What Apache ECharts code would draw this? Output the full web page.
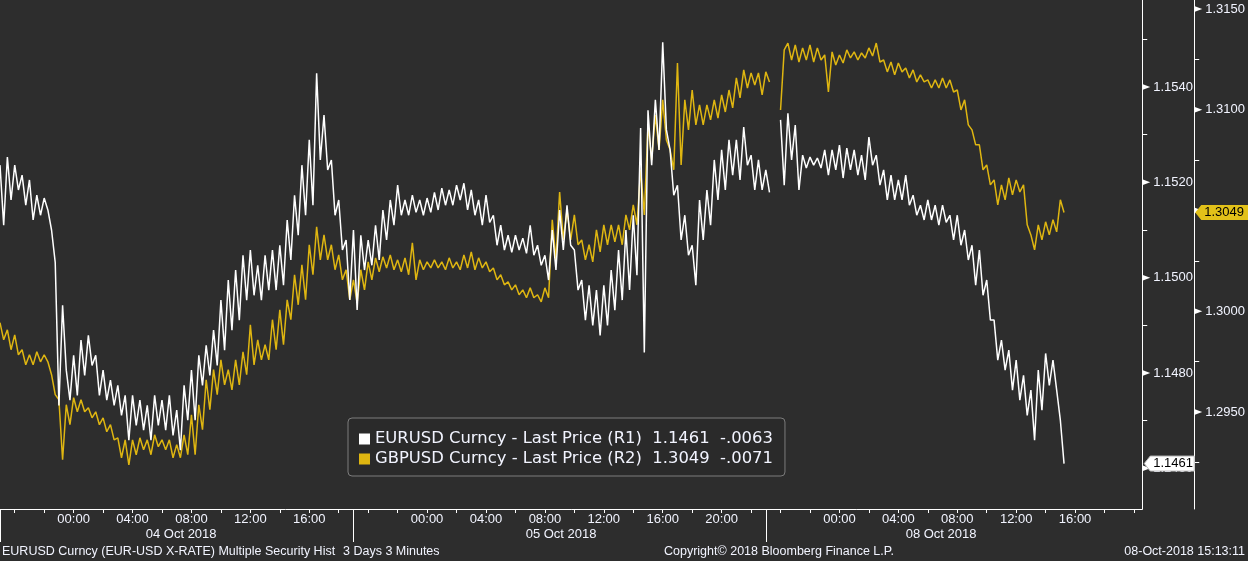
<!DOCTYPE html>
<html>
<head>
<meta charset="utf-8">
<script src="https://cdn.jsdelivr.net/npm/echarts@6/dist/echarts.min.js"></script>
<style>
html,body{margin:0;padding:0;background:#2d2d2d;}
#chart{width:1248px;height:561px;}
</style>
</head>
<body>
<div id="chart"></div>
<script>
// ---------------- DATA ----------------
const SERIES_NAMES = ['EURUSD Curncy - Last Price (R1)', 'GBPUSD Curncy - Last Price (R2)'];
const LAST_VALUES = ['1.1461', '1.3049'];
const NET_CHANGES = ['-.0063', '-.0071'];

// readings every 15 minutes of trading time, starting 19:00 on 03 Oct (weekend removed)
const SAMPLE_STEP_HOURS = 0.25;

const eurusd = [
1.15236,1.15110, 1.15253,1.15163, 1.15236,1.15184, 1.15215,1.15152, 1.15205,1.15121,
1.15173,1.15131, 1.15167,1.15142, 1.15100,1.15032, 1.14732,1.14942, 1.14806,1.14743,
1.14837,1.14753, 1.14869,1.14795, 1.14879,1.14816, 1.14837,1.14753, 1.14806,1.14743,
1.14785,1.14732, 1.14774,1.14711, 1.14753,1.14659, 1.14753,1.14690, 1.14743,1.14680,
1.14732,1.14659, 1.14753,1.14690, 1.14743,1.14680, 1.14753,1.14669, 1.14722,1.14638,
1.14774,1.14701, 1.14806,1.14701, 1.14837,1.14774, 1.14858,1.14795, 1.14890,1.14816,
1.14953,1.14848, 1.14995,1.14890, 1.15016,1.14911, 1.15047,1.14953, 1.15058,1.14963,
1.15026,1.14953, 1.15047,1.14974, 1.15058,1.14974, 1.15068,1.14984, 1.15121,1.15037,
1.15173,1.15089, 1.15236,1.15131, 1.15289,1.15152, 1.15429,1.15247, 1.15341,1.15226,
1.15247,1.15131, 1.15163,1.15058, 1.15079,1.14953, 1.15100,1.14932, 1.15089,1.15016,
1.15079,1.15026, 1.15110,1.15037, 1.15142,1.15079, 1.15163,1.15110, 1.15194,1.15131,
1.15163,1.15131, 1.15173,1.15137, 1.15163,1.15131, 1.15167,1.15137, 1.15179,1.15142,
1.15188,1.15152, 1.15184,1.15152, 1.15194,1.15163, 1.15198,1.15142, 1.15184,1.15131,
1.15163,1.15110, 1.15173,1.15116, 1.15131,1.15068, 1.15110,1.15058, 1.15089,1.15053,
1.15089,1.15058, 1.15083,1.15051, 1.15110,1.15047, 1.15068,1.15026, 1.15047,1.14995,
1.15100,1.15016, 1.15142,1.15058, 1.15152,1.15068, 1.15058,1.14974, 1.14995,1.14911,
1.14984,1.14900, 1.14974,1.14879, 1.14984,1.14900, 1.15016,1.14932, 1.15058,1.14953,
1.15100,1.14974, 1.15131,1.15005, 1.15314,1.14843, 1.15351,1.15236, 1.15373,1.15268,
1.15494,1.15310, 1.15268,1.15173, 1.15194,1.15079, 1.15131,1.15047, 1.15068,1.14984,
1.15163,1.15079, 1.15184,1.15110, 1.15247,1.15163, 1.15268,1.15184, 1.15289,1.15215,
1.15289,1.15205, 1.15316,1.15236, 1.15257,1.15184, 1.15247,1.15184, 1.15226,1.15179,
null,null,       1.15331,1.15194, 1.15345,1.15247, 1.15320,1.15184, 1.15257,1.15230,
1.15253,1.15236, 1.15251,1.15230, 1.15268,1.15215, 1.15268,1.15226, 1.15278,1.15209,
1.15272,1.15226, 1.15268,1.15215, 1.15257,1.15205, 1.15295,1.15236, 1.15257,1.15194,
1.15226,1.15163, 1.15215,1.15163, 1.15205,1.15163, 1.15215,1.15152, 1.15173,1.15131,
1.15152,1.15121, 1.15163,1.15121, 1.15152,1.15110, 1.15152,1.15116, 1.15131,1.15079,
1.15131,1.15068, 1.15100,1.15037, 1.15068,1.14984, 1.15058,1.14963, 1.14995,1.14911,
1.14911,1.14827, 1.14869,1.14806, 1.14848,1.14764, 1.14827,1.14743, 1.14795,1.14711,
1.14764,1.14659, 1.14806,1.14722, 1.14841,1.14774, 1.14827,1.14764, 1.14701,1.14610
];

const gbpusd = [
1.29943,1.29858, 1.29908,1.29809, 1.29883,1.29784, 1.29809,1.29734, 1.29784,1.29734,
1.29799,1.29749, 1.29784,1.29749, 1.29685,1.29586, 1.29561,1.29263, 1.29536,1.29437,
1.29571,1.29501, 1.29561,1.29501, 1.29521,1.29471, 1.29501,1.29437, 1.29471,1.29402,
1.29437,1.29362, 1.29372,1.29273, 1.29362,1.29238, 1.29362,1.29288, 1.29372,1.29313,
1.29362,1.29288, 1.29387,1.29328, 1.29362,1.29313, 1.29362,1.29273, 1.29338,1.29273,
1.29387,1.29288, 1.29486,1.29288, 1.29536,1.29412, 1.29660,1.29511, 1.29710,1.29586,
1.29759,1.29635, 1.29710,1.29610, 1.29759,1.29635, 1.29799,1.29685, 1.29933,1.29734,
1.29858,1.29759, 1.29834,1.29759, 1.29958,1.29809, 1.30007,1.29834, 1.30057,1.29958,
1.30181,1.30032, 1.30230,1.30057, 1.30330,1.30181, 1.30419,1.30255, 1.30379,1.30255,
1.30330,1.30206, 1.30280,1.30156, 1.30206,1.30057, 1.30156,1.30042, 1.30206,1.30106,
1.30245,1.30156, 1.30265,1.30196, 1.30270,1.30215, 1.30280,1.30206, 1.30255,1.30196,
1.30265,1.30181, 1.30339,1.30156, 1.30255,1.30206, 1.30245,1.30215, 1.30255,1.30215,
1.30245,1.30206, 1.30265,1.30215, 1.30245,1.30206, 1.30280,1.30215, 1.30295,1.30206,
1.30265,1.30215, 1.30245,1.30196, 1.30215,1.30156, 1.30181,1.30131, 1.30146,1.30106,
1.30131,1.30082, 1.30106,1.30067, 1.30116,1.30067, 1.30082,1.30047, 1.30116,1.30067,
1.30454,1.30255, 1.30592,1.30354, 1.30503,1.30354, 1.30478,1.30330, 1.30354,1.30255,
1.30330,1.30245, 1.30404,1.30295, 1.30429,1.30330, 1.30429,1.30344, 1.30429,1.30330,
1.30478,1.30404, 1.30528,1.30429, 1.30702,1.30478, 1.30925,1.30751, 1.30974,1.30801,
1.31049,1.30850, 1.30801,1.30702, 1.31232,1.30726, 1.31049,1.30900, 1.31098,1.30925,
1.31024,1.30925, 1.31024,1.30950, 1.31049,1.30959, 1.31074,1.30989, 1.31098,1.31009,
1.31158,1.31059, 1.31198,1.31108, 1.31183,1.31123, 1.31183,1.31074, 1.31188,1.31138,
null,null,       1.30999,1.31297, 1.31331,1.31247, 1.31322,1.31237, 1.31307,1.31247,
1.31322,1.31237, 1.31307,1.31247, 1.31272,1.31088, 1.31287,1.31222, 1.31272,1.31232,
1.31297,1.31257, 1.31287,1.31247, 1.31282,1.31257, 1.31307,1.31267, 1.31331,1.31237,
1.31247,1.31188, 1.31237,1.31173, 1.31232,1.31188, 1.31207,1.31158, 1.31198,1.31138,
1.31173,1.31138, 1.31148,1.31108, 1.31148,1.31108, 1.31158,1.31108, 1.31148,1.31088,
1.31098,1.30999, 1.31049,1.30925, 1.30900,1.30826, 1.30826,1.30702, 1.30726,1.30627,
1.30652,1.30528, 1.30627,1.30553, 1.30662,1.30578, 1.30652,1.30592, 1.30627,1.30429,
1.30379,1.30305, 1.30429,1.30354, 1.30444,1.30379, 1.30454,1.30394, 1.30553,1.30490
];

// x axis (hours of trading time since 19:00 03 Oct)
const X_MIN = 0, X_MAX = 77.56;
const sessionStartHours = [0, 24, 52];
const SESSION_OPEN_CLOCK = 19;
const timeLabelHours = [5, 9, 13, 17, 21, 29, 33, 37, 41, 45, 49, 57, 61, 65, 69, 73];
const timeTickHours = [1,3,5,7,9,11,13,15,17,19,21,23,25,27,29,31,33,35,37,39,41,43,45,47,49,51,53,55,57,59,61,63,65,67,69,71,73,75,77];
const dayLabels = ['04 Oct 2018', '05 Oct 2018', '08 Oct 2018'];
const dayLabelHours = [12.3, 38.1, 63.9];

// y axes
const EUR_MIN = 1.145147, EUR_MAX = 1.155825;
const GBP_MIN = 1.290186, GBP_MAX = 1.315447;
const eurTicks = [1.146, 1.147, 1.148, 1.149, 1.150, 1.151, 1.152, 1.153, 1.154, 1.155];
const eurLabels = [1.146, 1.148, 1.150, 1.152, 1.154];
const gbpTicks = [1.2925, 1.2950, 1.2975, 1.3000, 1.3025, 1.3050, 1.3075, 1.3100, 1.3125, 1.3150];
const gbpLabels = [1.2950, 1.3000, 1.3050, 1.3100, 1.3150];

const footerLeft = 'EURUSD Curncy (EUR-USD X-RATE) Multiple Security Hist';
const footerPeriod = '3 Days 3 Minutes';
const footerCopyright = 'Copyright\u00A9 2018 Bloomberg Finance L.P.';
const footerStamp = '08-Oct-2018 15:13:11';

// ---------------- STYLE ----------------
const FONT = '"Liberation Sans", Arial, sans-serif';
const LEGEND_FONT = '"DejaVu Sans", "Liberation Sans", sans-serif';
const BG = '#2d2d2d';
const WHITE = '#ffffff';
const TEXT = '#f2f4ff';
const YELLOW = '#dfb611';
const TAG_YELLOW = '#e2c119';

const chart = echarts.init(document.getElementById('chart'), null, {renderer: 'canvas'});

function toPairs(arr) {
  return arr.map((v, i) => [i * SAMPLE_STEP_HOURS, v === null ? '-' : v]);
}
function pad2(n) { return (n < 10 ? '0' : '') + n; }
function clockLabel(h) {
  let s = 0;
  sessionStartHours.forEach(st => { if (h >= st) s = st; });
  const c = Math.round((SESSION_OPEN_CLOCK + h - s)) % 24;
  return pad2(c) + ':00';
}

const option = {
  backgroundColor: BG,
  animation: false,
  grid: {left: 0, right: 104, top: 0, bottom: 52, containLabel: false},
  legend: {
    data: SERIES_NAMES,
    orient: 'vertical',
    left: 348, top: 418,
    padding: [11, 12, 7, 11],
    itemGap: 0,
    itemWidth: 11, itemHeight: 11,
    icon: 'rect',
    selectedMode: false,
    backgroundColor: '#2a2a2a',
    borderColor: '#7c7c7c', borderWidth: 1, borderRadius: 4,
    itemStyle: {borderWidth: 0},
    textStyle: {color: TEXT, fontSize: 16.4, fontFamily: LEGEND_FONT, lineHeight: 20},
    formatter: function (name) {
      const i = SERIES_NAMES.indexOf(name);
      return name + '  ' + LAST_VALUES[i] + '  ' + NET_CHANGES[i];
    }
  },
  xAxis: [{
    type: 'value', min: X_MIN, max: X_MAX, position: 'bottom',
    axisLine: {show: true, onZero: false, lineStyle: {color: WHITE, width: 1}},
    axisTick: {show: true, customValues: timeTickHours, length: 4, lineStyle: {color: WHITE}},
    axisLabel: {customValues: timeLabelHours, formatter: clockLabel, color: TEXT, fontSize: 13, fontFamily: FONT, margin: 4},
    splitLine: {show: false}
  }, {
    type: 'value', min: X_MIN, max: X_MAX, position: 'bottom',
    axisLine: {show: false, onZero: false},
    axisTick: {show: true, customValues: sessionStartHours, length: 33, lineStyle: {color: WHITE}},
    axisLabel: {
      customValues: dayLabelHours,
      formatter: function (v) {
        let best = 0;
        dayLabelHours.forEach((h, i) => { if (Math.abs(h - v) < Math.abs(dayLabelHours[best] - v)) best = i; });
        return dayLabels[best];
      },
      color: TEXT, fontSize: 13, fontFamily: FONT, margin: 19
    },
    splitLine: {show: false}
  }],
  yAxis: [{
    type: 'value', position: 'right', min: EUR_MIN, max: EUR_MAX,
    axisLine: {show: true, onZero: false, lineStyle: {color: WHITE}},
    axisTick: {show: true, customValues: eurTicks, length: 5, lineStyle: {color: WHITE}},
    axisLabel: {customValues: eurLabels, formatter: v => v.toFixed(4), color: TEXT, fontSize: 13, fontFamily: FONT, margin: 11},
    splitLine: {show: false}
  }, {
    type: 'value', position: 'right', offset: 52, min: GBP_MIN, max: GBP_MAX,
    axisLine: {show: true, onZero: false, lineStyle: {color: WHITE}},
    axisTick: {show: true, customValues: gbpTicks, length: 5, lineStyle: {color: WHITE}},
    axisLabel: {customValues: gbpLabels, formatter: v => v.toFixed(4), color: TEXT, fontSize: 13, fontFamily: FONT, margin: 11},
    splitLine: {show: false}
  }],
  series: [{
    name: SERIES_NAMES[0], type: 'line', xAxisIndex: 0, yAxisIndex: 0,
    data: toPairs(eurusd), showSymbol: false, symbol: 'none', connectNulls: false,
    lineStyle: {color: WHITE, width: 1.5}, itemStyle: {color: WHITE}, z: 3
  }, {
    name: SERIES_NAMES[1], type: 'line', xAxisIndex: 0, yAxisIndex: 1,
    data: toPairs(gbpusd), showSymbol: false, symbol: 'none', connectNulls: false,
    lineStyle: {color: YELLOW, width: 1.5}, itemStyle: {color: YELLOW}, z: 2
  }]
};

chart.setOption(option);

// overlay: tick arrows, last-value tags, footer
const els = [];
const axis1X = chart.convertToPixel({xAxisIndex: 0}, X_MAX);
const axis2X = axis1X + 52;
eurLabels.forEach(v => {
  const y = chart.convertToPixel({yAxisIndex: 0}, v);
  els.push({type: 'polygon', z: 50, shape: {points: [[axis1X, y - 3], [axis1X + 8, y], [axis1X, y + 3]]}, style: {fill: WHITE}});
});
gbpLabels.forEach(v => {
  const y = chart.convertToPixel({yAxisIndex: 1}, v);
  els.push({type: 'polygon', z: 50, shape: {points: [[axis2X, y - 3], [axis2X + 8, y], [axis2X, y + 3]]}, style: {fill: WHITE}});
});
const yE = chart.convertToPixel({yAxisIndex: 0}, parseFloat(LAST_VALUES[0]));
els.push({type: 'polygon', z: 60, shape: {points: [[axis1X + 2, yE], [axis1X + 8, yE - 7.5], [axis2X, yE - 7.5], [axis2X, yE + 7.5], [axis1X + 8, yE + 7.5]]}, style: {fill: WHITE, stroke: '#bbbbbb', lineWidth: 1}});
els.push({type: 'text', z: 61, style: {text: LAST_VALUES[0], x: axis1X + 11, y: yE, fill: '#000000', font: '13px ' + FONT, textVerticalAlign: 'middle'}});
const yG = chart.convertToPixel({yAxisIndex: 1}, parseFloat(LAST_VALUES[1]));
els.push({type: 'polygon', z: 60, shape: {points: [[axis2X + 1, yG], [axis2X + 7, yG - 7.5], [1248, yG - 7.5], [1248, yG + 7.5], [axis2X + 7, yG + 7.5]]}, style: {fill: TAG_YELLOW}});
els.push({type: 'text', z: 61, style: {text: LAST_VALUES[1], x: axis2X + 10, y: yG, fill: '#000000', font: '13px ' + FONT, textVerticalAlign: 'middle'}});

const FOOT_FONT = '12.5px ' + FONT;
els.push({type: 'text', z: 40, style: {text: footerLeft, x: 2, y: 552, fill: TEXT, font: FOOT_FONT, textVerticalAlign: 'middle'}});
els.push({type: 'text', z: 40, style: {text: footerPeriod, x: 343, y: 552, fill: TEXT, font: FOOT_FONT, textVerticalAlign: 'middle'}});
els.push({type: 'text', z: 40, style: {text: footerCopyright, x: 664, y: 552, fill: TEXT, font: FOOT_FONT, textVerticalAlign: 'middle'}});
els.push({type: 'text', z: 40, style: {text: footerStamp, x: 1245, y: 552, fill: TEXT, font: FOOT_FONT, textAlign: 'right', textVerticalAlign: 'middle'}});

chart.setOption({graphic: els});
</script>
</body>
</html>
